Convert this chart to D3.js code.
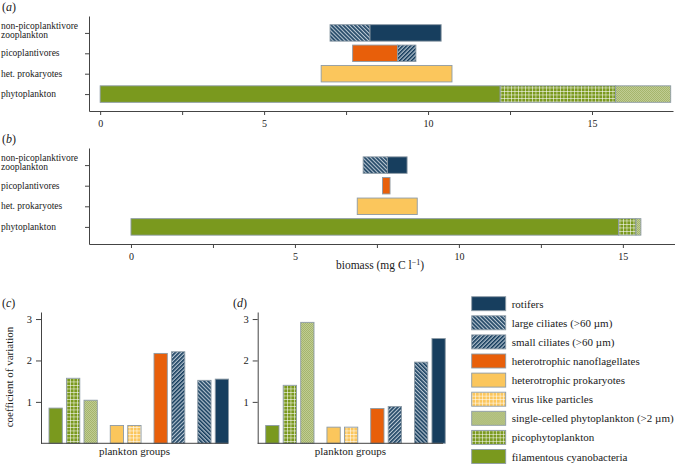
<!DOCTYPE html>
<html>
<head>
<meta charset="utf-8">
<script src="https://cdn.jsdelivr.net/npm/d3@7"></script>
</head>
<body style="margin:0;background:#fff">
<svg id="chart" width="675" height="464" font-family="Liberation Serif"></svg>
<script>
// ---- data ----
var rowNames = ["nonpico", "picoplanktivores", "hetprok", "phyto"];
var rowLabels = [["non-picoplanktivore", "zooplankton"], ["picoplantivores"], ["het. prokaryotes"], ["phytoplankton"]];

// biomass segments [row, group, from, to]
var biomassA = [
  ["nonpico", "large", 7.01, 8.23], ["nonpico", "rot", 8.23, 10.4],
  ["picoplanktivores", "hnf", 7.7, 9.07], ["picoplanktivores", "small", 9.07, 9.63],
  ["hetprok", "hprok", 6.74, 10.73],
  ["phyto", "fil", 0, 12.2], ["phyto", "pico", 12.2, 15.72], ["phyto", "single", 15.72, 17.4]
];
// panel (b)
var biomassB = [
  ["nonpico", "large", 7.08, 7.82], ["nonpico", "rot", 7.82, 8.42],
  ["picoplanktivores", "hnf", 7.67, 7.9],
  ["hetprok", "hprok", 6.9, 8.73],
  ["phyto", "fil", 0, 14.87], ["phyto", "pico", 14.87, 15.4], ["phyto", "single", 15.4, 15.55]
];

// coefficient of variation, in bar order
var cvGroups = ["fil", "pico", "single", "hprok", "virus", "hnf", "small", "large", "rot"];
var cvCluster = [0, 0, 0, 1, 1, 2, 2, 3, 3];
var cvC = [0.85, 1.57, 1.04, 0.43, 0.43, 2.17, 2.21, 1.52, 1.55];
var cvD = [0.43, 1.40, 2.92, 0.39, 0.39, 0.84, 0.89, 1.96, 2.53];

var legendKeys = ["rot", "large", "small", "hnf", "hprok", "virus", "single", "pico", "fil"];
var legendNames = ["rotifers", "large ciliates (>60 \u00b5m)", "small ciliates (>60 \u00b5m)",
  "heterotrophic nanoflagellates", "heterotrophic prokaryotes", "virus like particles",
  "single-celled phytoplankton (>2 \u00b5m)", "picophytoplankton", "filamentous cyanobacteria"];

var biomassTicks = [0, 5, 10, 15];
var biomassMinor = [2.5, 7.5, 12.5];
var cvTicks = [1, 2, 3];

// ---- fills ----
var navy = "#173e5e", orange = "#e85f0a", yellow = "#fbc65c", green = "#7a991e";
var edge = "#8d9ba6", axisCol = "#444";
var serif = "Liberation Serif";

var svg = d3.select("#chart");
var defs = svg.append("defs");

function hatch(id, angle) {
  var p = defs.append("pattern").attr("id", id).attr("patternUnits", "userSpaceOnUse")
    .attr("width", 2.8).attr("height", 2.8).attr("patternTransform", "rotate(" + angle + ")");
  p.append("rect").attr("width", 2.8).attr("height", 2.8).attr("fill", "#b9c7d3");
  p.append("rect").attr("width", 1.6).attr("height", 2.8).attr("fill", navy);
}
hatch("p-large", -45);
hatch("p-small", 45);

function grid(id, bg) {
  var p = defs.append("pattern").attr("id", id).attr("patternUnits", "userSpaceOnUse")
    .attr("width", 3.5).attr("height", 3.5);
  p.append("rect").attr("width", 3.5).attr("height", 3.5).attr("fill", bg);
  p.append("path").attr("d", "M0,0.4H3.5M0.4,0V3.5").attr("stroke", "#fff")
    .attr("stroke-opacity", 0.7).attr("stroke-width", 0.8);
}
grid("p-pico", green);
grid("p-virus", yellow);

(function () {
  var p = defs.append("pattern").attr("id", "p-single").attr("patternUnits", "userSpaceOnUse")
    .attr("width", 2).attr("height", 2);
  p.append("rect").attr("width", 2).attr("height", 2).attr("fill", "#c0cc93");
  p.append("rect").attr("width", 1).attr("height", 1).attr("fill", "#a5b56c");
  p.append("rect").attr("x", 1).attr("y", 1).attr("width", 1).attr("height", 1).attr("fill", "#a5b56c");
})();

var fills = {
  rot: navy, large: "url(#p-large)", small: "url(#p-small)", hnf: orange, hprok: yellow,
  virus: "url(#p-virus)", single: "url(#p-single)", pico: "url(#p-pico)", fil: green
};

function styleAxis(sel, size) {
  sel.attr("font-family", serif).attr("font-size", size);
  sel.selectAll("path, line").attr("stroke", axisCol);
  sel.selectAll("text").attr("fill", "#222");
}

function panelLabel(x, y, letter) {
  var t = svg.append("text").attr("x", x).attr("y", y).attr("font-size", 12);
  t.append("tspan").text("(");
  t.append("tspan").attr("font-style", "italic").text(letter);
  t.append("tspan").text(")");
}

// ---- biomass panels ----
function biomassPanel(data, xDomain, xRange, yRange, letter) {
  var x = d3.scaleLinear().domain(xDomain).range(xRange);
  var y = d3.scalePoint().domain(rowNames).range(yRange).padding(0.83);
  var g = svg.append("g");

  var h = 16.5;
  g.selectAll("rect.seg").data(data).enter().append("rect").attr("class", "seg")
    .attr("x", function (d) { return x(d[2]); })
    .attr("width", function (d) { return x(d[3]) - x(d[2]); })
    .attr("y", function (d) { return y(d[0]) - h / 2; })
    .attr("height", h)
    .attr("fill", function (d) { return fills[d[1]]; })
    .attr("stroke", edge).attr("stroke-width", 0.9);

  g.append("g").attr("transform", "translate(0," + yRange[1] + ")")
    .call(d3.axisBottom(x).tickValues(biomassTicks).tickSize(4).tickSizeOuter(0).tickPadding(5))
    .call(styleAxis, 10);
  g.append("g").attr("transform", "translate(0," + yRange[1] + ")")
    .call(d3.axisBottom(x).tickValues(biomassMinor).tickFormat("").tickSize(4))
    .call(styleAxis, 10)
    .select(".domain").remove();
  g.append("g").attr("transform", "translate(" + xRange[0] + ",0)")
    .call(d3.axisLeft(y).tickFormat("").tickSize(4).tickSizeOuter(0))
    .call(styleAxis, 10);

  rowNames.forEach(function (r, i) {
    var lines = rowLabels[i];
    if (lines.length === 1) {
      g.append("text").attr("x", 1).attr("y", y(r) + 3).attr("font-size", 9.5).text(lines[0]);
    } else {
      g.append("text").attr("x", 1).attr("y", y(r) - 4).attr("font-size", 9.5).text(lines[0]);
      g.append("text").attr("x", 1).attr("y", y(r) + 5).attr("font-size", 9.5).text(lines[1]);
    }
  });

  panelLabel(2, yRange[0] - 5, letter);
}

biomassPanel(biomassA, [-0.34, 17.47], [89, 673], [16, 111], "a");
biomassPanel(biomassB, [-1.28, 16.59], [89, 675], [148, 244], "b");

var bl = svg.append("text").attr("x", 380).attr("y", 269).attr("text-anchor", "middle")
  .attr("font-size", 11.5);
bl.append("tspan").text("biomass (mg C l");
bl.append("tspan").attr("dy", -4).attr("font-size", 8).text("\u22121");
bl.append("tspan").attr("dy", 4).text(")");

// ---- coefficient of variation panels ----
function cvPanel(values, axisX, axisEnd, letter, labelX) {
  var y = d3.scaleLinear().domain([0, 3.17]).range([443.3, 312]);
  var slot = d3.scaleLinear().domain([0, 9.5]).range([axisX + 8, axisX + 8 + 9.5 * 17.5]);
  var bw = 13.3;
  var g = svg.append("g");

  g.selectAll("rect").data(values).enter().append("rect")
    .attr("x", function (d, i) { return slot(i + 0.5 * cvCluster[i]); })
    .attr("width", bw)
    .attr("y", function (d) { return y(d); })
    .attr("height", function (d) { return y(0) - y(d); })
    .attr("fill", function (d, i) { return fills[cvGroups[i]]; })
    .attr("stroke", edge).attr("stroke-width", 0.9);

  g.append("g").attr("transform", "translate(" + axisX + ",0)")
    .call(d3.axisLeft(y).tickValues(cvTicks).tickFormat(d3.format("d"))
      .tickSize(5).tickSizeOuter(0).tickPadding(4))
    .call(styleAxis, 10.5);
  g.append("line").attr("x1", axisX).attr("x2", axisEnd).attr("y1", y(0)).attr("y2", y(0))
    .attr("stroke", axisCol);

  g.append("text").attr("x", (axisX + axisEnd) / 2).attr("y", 455).attr("text-anchor", "middle")
    .attr("font-size", 11).text("plankton groups");
  panelLabel(labelX, 307, letter);
}

cvPanel(cvC, 41, 228, "c", 2);
cvPanel(cvD, 257.7, 443, "d", 233);

svg.append("text").attr("transform", "translate(13,377) rotate(-90)").attr("text-anchor", "middle")
  .attr("font-size", 11).text("coefficient of variation");

// ---- legend ----
var leg = svg.append("g").attr("transform", "translate(471.7,296.7)");
var row = leg.selectAll("g").data(legendKeys).enter().append("g")
  .attr("transform", function (d, i) { return "translate(0," + (i * 19.1) + ")"; });
row.append("rect").attr("width", 34).attr("height", 14)
  .attr("fill", function (d) { return fills[d]; })
  .attr("stroke", edge).attr("stroke-width", 0.9);
row.append("text").attr("x", 40).attr("y", 11).attr("font-size", 11)
  .text(function (d, i) { return legendNames[i]; });

svg.selectAll("text").attr("font-family", serif).each(function () {
  if (!this.getAttribute("fill")) this.setAttribute("fill", "#1a1a1a");
});
</script>
</body>
</html>
